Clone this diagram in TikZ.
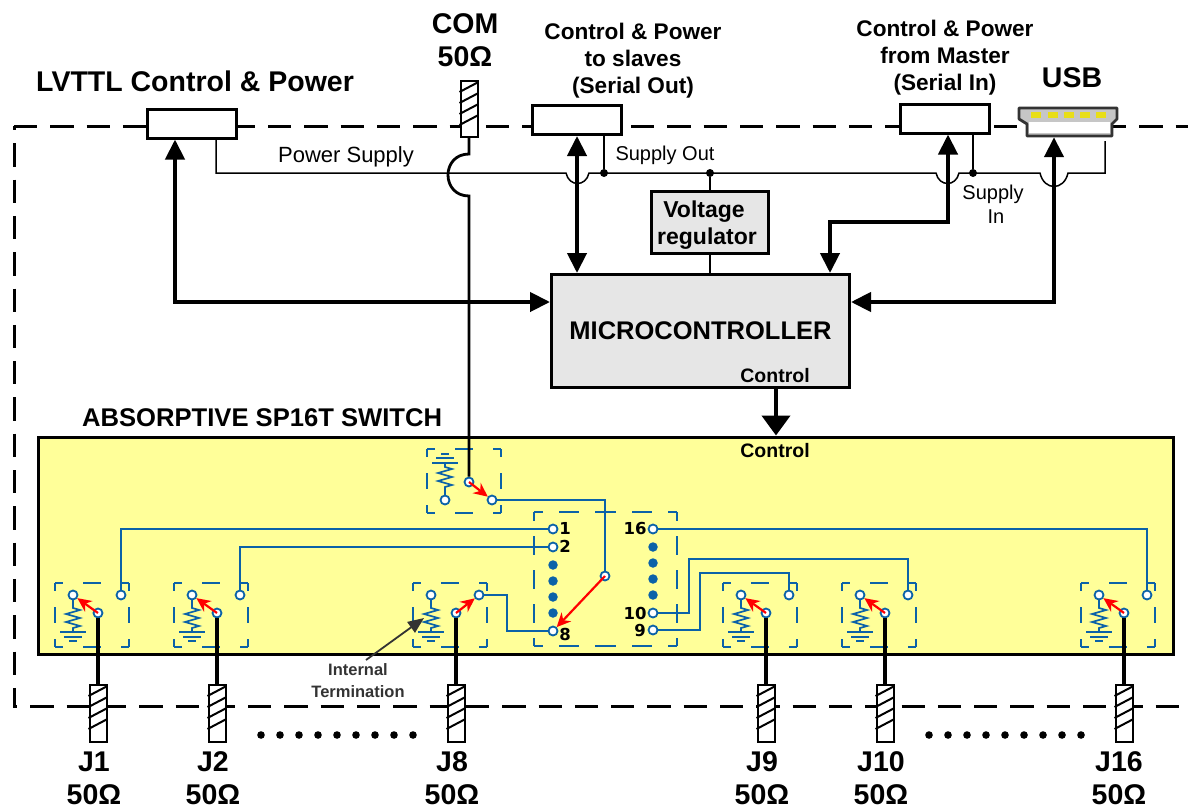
\documentclass[tikz,border=0pt]{standalone}
\usepackage{fontspec}
\setmainfont{Liberation Sans}
\newfontfamily\pinfont{DejaVu Sans}
\usetikzlibrary{arrows.meta,positioning,calc}
\definecolor{swblue}{HTML}{0B62A8}
\definecolor{swyellow}{HTML}{FFFF99}
\definecolor{boxgray}{HTML}{E6E6E6}
\tikzset{
  bigtxt/.style={font=\bfseries\fontsize{28.5}{33}\selectfont,align=center},
  midtxt/.style={font=\bfseries\fontsize{22.6}{27}\selectfont,align=center},
  regtxt/.style={font=\bfseries\fontsize{23}{27}\selectfont,align=center},
  ctrltxt/.style={font=\bfseries\fontsize{19.5}{20}\selectfont},
  thintxt/.style={font=\fontsize{20}{24}\selectfont,align=center},
  pintxt/.style={font=\pinfont\bfseries\fontsize{16.5}{17}\selectfont,inner sep=0pt},
  portbox/.style={draw,fill=white,line width=3pt,minimum width=89pt,minimum height=29pt,inner sep=0pt},
  graybox/.style={draw,fill=boxgray,line width=3pt,inner sep=0pt},
  stubbox/.style={draw,fill=white,line width=2pt,minimum width=17pt,inner sep=0pt},
  outerdash/.style={line width=3pt,dash pattern=on 23.3pt off 13pt},
  supply/.style={line width=1.5pt},
  bus/.style={line width=4.2pt,>={Triangle[length=20pt,width=19pt]}},
  term/.style={circle,draw=swblue,fill=white,line width=1.8pt,inner sep=0pt,minimum size=9pt},
  wire/.style={draw=swblue,line width=2pt},
  sel/.style={draw=red,line width=2.2pt,-{Stealth[length=14pt,width=13pt]}},
  blob/.style={circle,fill=black,inner sep=0pt,minimum size=8pt},
  pindot/.style={circle,fill=swblue,inner sep=0pt,minimum size=9.5pt},
  framehor/.style={draw=swblue,line width=1.8pt,dash pattern=on 8pt off 20pt on 18pt off 20pt on 8pt},
  framever/.style={draw=swblue,line width=1.8pt,dash pattern=on 8pt off 16pt on 16pt off 16pt on 8pt},
  termres/.pic={
    \draw[wire,line width=1.7pt] (0,0) -- (0,13) -- (7,15) -- (-7,19) -- (7,23) -- (-7,27) -- (7,31) -- (0,33) -- (0,37);
    \draw[wire,line width=1.7pt] (-13,37) -- (13,37) (-9,42) -- (9,42) (-4,46) -- (4,46);
  },
  swframe/.pic={
    \draw[framehor] (0,0) -- (74,0) (0,64) -- (74,64);
    \draw[framever] (0,0) -- (0,64) (74,0) -- (74,64);
  }
}
\newcommand{\stubnode}[4]{%
  \node[stubbox,minimum height=#4 pt] (#1) at (#2,#3) {};
  \foreach \k in {12,23,34,45} \draw[line width=2pt] ($(#1.north west)+(0,\k)$) -- ($(#1.north east)+(0,\k-10)$);
}
\begin{document}
\begin{tikzpicture}[x=1pt,y=-1pt]
  \useasboundingbox (0,0) rectangle (1188,808);
  % 外枠
  \draw[outerdash] (14,126) -- (1188,126);
  \draw[outerdash,dash phase=19pt] (14,126) -- (14,706);
  \draw[outerdash,dash phase=19pt] (13,706) -- (1188,706);
  % 上部の端子
  \node[portbox] (lvttl) at (192,123.5) {};
  \node[portbox] (serout) at (576.5,120) {};
  \node[portbox] (serin) at (944.5,118.5) {};
  \stubnode{com}{469}{109}{56}
  \node[bigtxt,anchor=west,inner sep=0pt] (lvttltxt) at (36,81) {LVTTL Control \& Power};
  \node[bigtxt] (comtxt) at (465,40) {COM\\50Ω};
  \node[midtxt] (serouttxt) at (633,61) {Control \& Power\\to slaves\\(Serial Out)};
  \node[midtxt] (serintxt) at (945,58) {Control \& Power\\from Master\\(Serial In)};
  \node[bigtxt] (usbtxt) at (1072,78) {USB};
  % USB コネクタ
  \draw[fill=gray!45,draw=black!80,line width=2.8pt,line join=round] (1019,108) -- (1117,108) -- (1117,119) -- (1112,124) -- (1112,136) -- (1027,136) -- (1027,124) -- (1019,119) -- cycle;
  \fill[white] (1029,122) rectangle (1110,133);
  \foreach \px in {1036,1053,1069,1085,1101} \fill[yellow!90!black] (\px-5,112) rectangle (\px+5,118);
  \node[inner sep=0pt,minimum width=95pt,minimum height=30pt] (usb) at (1068,122) {};
  % 制御部
  \node[graybox,minimum width=298pt,minimum height=113pt,font=\bfseries\fontsize{25.5}{27}\selectfont] (mcu) at (700.5,331) {MICROCONTROLLER};
  \node[graybox,minimum width=117pt,minimum height=62pt] (vreg) at (710,222.5) {};
  \node[regtxt] (vregtxt1) at (704,212) {Voltage};
  \node[regtxt] (vregtxt2) at (707,239) {regulator};
  \node[ctrltxt] (mcuctrl) at (775,376) {Control};
  % 電源線
  \coordinate (pwrl) at (216,173);
  \node[blob] (dotout) at (604,173) {};
  \node[blob] (dotreg) at (710,173) {};
  \node[blob] (dotin) at (973,173) {};
  \coordinate (pwrr) at (1105,173);
  \draw[supply] (lvttl.south -| pwrl) -- (pwrl) -- (566,173) .. controls (569,187) and (586,187) .. (589,173) -- (936,173) .. controls (939,187) and (956,187) .. (959,173) -- (1040,173) .. controls (1044,191) and (1064,191) .. (1068,173) -- (pwrr) -- (1105,141);
  \draw[supply] (dotout) -- (serout.south -| dotout);
  \draw[supply] (dotin) -- (serin.south -| dotin);
  \draw[supply] (dotreg) -- (vreg);
  \draw[supply] (vreg) -- (mcu.north -| vreg);
  \node[thintxt,font=\fontsize{22}{24}\selectfont] (pwrtxt) at (346,157) {Power Supply};
  \node[thintxt] (outtxt) at (665,155) {Supply Out};
  \node[thintxt] (intxt) at (993,204) {Supply\\\hspace*{6pt}In};
  % バス
  \coordinate (lvttlbus) at (175,302);
  \coordinate (seroutbus) at (577,200);
  \coordinate (serinbus) at (948,222);
  \coordinate (serinmcu) at (830,222);
  \coordinate (usbbus) at (1054,302);
  \draw[bus,<->] (lvttl.south -| lvttlbus) -- (lvttlbus) -- (mcu.west |- lvttlbus);
  \draw[bus,<->] (serout.south -| seroutbus) -- (mcu.north -| seroutbus);
  \draw[bus,<->] (serin.south -| serinbus) -- (serinbus) -- (serinmcu) -- (mcu.north -| serinmcu);
  \draw[bus,<->] (usb.south -| usbbus) -- (usbbus) -- (mcu.east |- usbbus);
  % スイッチ本体
  \node[draw,fill=swyellow,line width=3pt,minimum width=1135pt,minimum height=217pt,inner sep=0pt] (swbox) at (605.5,545.5) {};
  \draw[bus,>={Triangle[length=20pt,width=28pt]},->] (mcu.south -| 776,0) -- (swbox.north -| 776,0);
  \node[font=\bfseries\fontsize{25.6}{27}\selectfont,anchor=west,inner sep=0pt] (swtxt) at (82,418) {ABSORPTIVE SP16T SWITCH};
  \node[ctrltxt] (swctrl) at (775,451) {Control};
  % 共通端子
  \pic at (427,449) {swframe};
  \pic[yscale=-1] at (445,500) {termres};
  \node[term] (coml) at (445,500) {};
  \node[term] (comp) at (469,482) {};
  \node[term] (comc) at (492,500) {};
  \draw[line width=2.8pt] (com.south) -- (469,154) .. controls (441,154) and (441,196) .. (469,196) -- (comp);
  \draw[sel] (comp.center) -- (comc);
  \node[term] (selt) at (605,576) {};
  \draw[wire] (comc) -| (selt);
  % 中央の端子列
  \draw[framehor,dash pattern=on 9pt off 16pt on 20pt off 16pt on 21pt off 16pt on 20pt off 16pt on 9pt] (534,512) -- (677,512) (534,646) -- (677,646);
  \draw[framever,dash pattern=on 9pt off 15pt on 19pt off 15pt on 19pt off 15pt on 19pt off 15pt on 9pt] (534,512) -- (534,646) (677,512) -- (677,646);
  \node[term] (t1) at (553,529) {};
  \node[term] (t2) at (553,547) {};
  \node[term] (t8) at (553,631) {};
  \node[term] (t16) at (653,529) {};
  \node[term] (t10) at (653,613) {};
  \node[term] (t9) at (653,630) {};
  \foreach \py in {565,581,597,613} \node[pindot] (ld\py) at (553,\py) {};
  \foreach \py in {547,563,579,595} \node[pindot] (rd\py) at (653,\py) {};
  \node[pintxt] (p1) at (565,528) {1};
  \node[pintxt] (p2) at (565,546) {2};
  \node[pintxt] (p8) at (565,634) {8};
  \node[pintxt] (p16) at (635,528) {16};
  \node[pintxt] (p10) at (635,613) {10};
  \node[pintxt] (p9) at (640,630) {9};
  \draw[sel] (selt.center) -- (t8);
  % 各ポートのスイッチ
  \foreach \nm/\dx/\tgt/\lab/\lx in {j1/0/l/J1/94,j2/119/l/J2/213,j8/358/r/J8/452,j9/668/l/J9/762,j10/787/l/J10/881,j16/1026/l/J16/1119}{
    \pic at (55+\dx,583) {swframe};
    \pic at (73+\dx,595) {termres};
    \node[term] (\nm l) at (73+\dx,595) {};
    \node[term] (\nm p) at (98+\dx,613) {};
    \node[term] (\nm r) at (121+\dx,595) {};
    \stubnode{\nm s}{98+\dx}{713.5}{57}
    \draw[line width=3.8pt] (\nm s.north) -- (\nm p);
    \draw[sel] (\nm p.center) -- (\nm\tgt);
    \node[bigtxt] (\nm txt) at (\lx,778) {\lab\\50Ω};
  }
  % 配線
  \draw[wire] (t1) -| (j1r);
  \draw[wire] (t2) -| (j2r);
  \draw[wire] (j8r) -- (507,595) -- (507,631) -- (t8);
  \draw[wire] (t9) -- (700,630) -- (700,573) -| (j9r);
  \draw[wire] (t10) -- (689,613) -- (689,559) -| (j10r);
  \draw[wire] (t16) -| (j16r);
  % 内部終端の注記
  \node[font=\bfseries\fontsize{16.5}{22}\selectfont,align=center,text=black!80] (itxt) at (358,681) {Internal\\Termination};
  \coordinate (itip) at (424,618);
  \draw[line width=1.8pt,draw=black!80,fill=black!80,-{Triangle[length=16pt,width=13pt]}] (366,660) -- (itip);
  % 省略の点
  \foreach \k in {0,...,8} \fill (261+19*\k,735) circle (3.8pt);
  \foreach \k in {0,...,8} \fill (929+19*\k,735) circle (3.8pt);
\end{tikzpicture}
\end{document}
